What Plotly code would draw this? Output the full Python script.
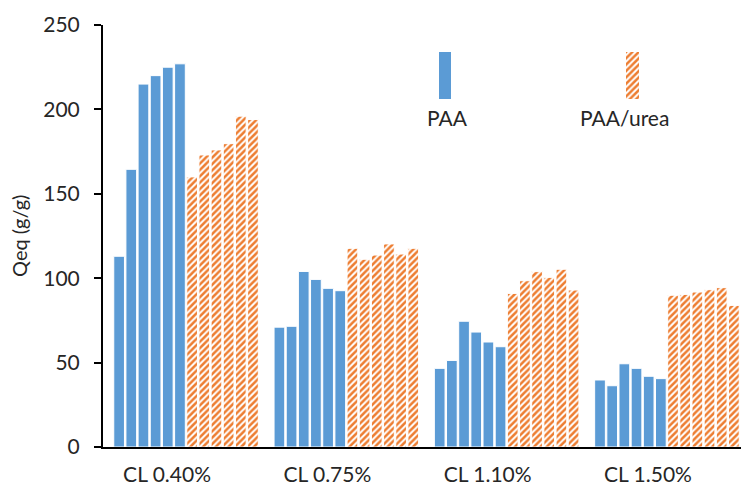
import plotly.graph_objects as go

categories = ["CL 0.40%", "CL 0.75%", "CL 1.10%", "CL 1.50%"]
series_names = ["PAA", "PAA/urea"]

# six samples per crosslinker level (Qeq, g/g)
paa_040 = [113, 164.5, 215, 220, 225, 227]
paa_075 = [71, 71.5, 104, 99.3, 94, 92.6]
paa_110 = [46.6, 51.3, 74.5, 68.1, 62.2, 59.4]
paa_150 = [39.7, 36.3, 49.3, 46.6, 41.9, 40.5]

urea_040 = [160, 173, 176, 179.7, 196, 194]
urea_075 = [117.7, 111.2, 113.7, 120.3, 114.3, 117.7]
urea_110 = [91.0, 98.5, 103.9, 100.5, 105.3, 93.0]
urea_150 = [89.9, 90.4, 91.8, 93.2, 94.4, 83.9]

y_ticks = [0, 50, 100, 150, 200, 250]

BLUE = "#5B9BD5"
ORANGE = "#ED7D31"
TEXT = "#262626"
FONT = "Lato"

paa = [paa_040, paa_075, paa_110, paa_150]
urea = [urea_040, urea_075, urea_110, urea_150]

fig = go.Figure()

hatch = dict(shape="/", size=4.5, solidity=0.55, fgcolor=ORANGE, bgcolor="white", fillmode="replace")

for i in range(6):
    fig.add_trace(go.Bar(
        x=categories, y=[grp[i] for grp in paa], name=series_names[0],
        marker=dict(color=BLUE, line=dict(color="white", width=1)),
        showlegend=False,
    ))
for i in range(6):
    fig.add_trace(go.Bar(
        x=categories, y=[grp[i] for grp in urea], name=series_names[1],
        marker=dict(color=ORANGE, line=dict(color="white", width=1), pattern=hatch),
        showlegend=False,
    ))

# legend keys drawn as single bars in small inset axes
fig.add_trace(go.Bar(x=[0], y=[1], width=[1], xaxis="x2", yaxis="y2",
                     marker=dict(color=BLUE, line=dict(width=0)), showlegend=False, hoverinfo="skip"))
fig.add_trace(go.Bar(x=[0], y=[1], width=[1], xaxis="x3", yaxis="y3",
                     marker=dict(color=ORANGE, line=dict(width=0), pattern=hatch), showlegend=False, hoverinfo="skip"))

L, R, T, B = 103, 0, 25, 39
W, H = 741, 486
pw, ph = W - L - R, H - T - B

def px_x(p):
    return (p - L) / pw

def px_y(p):
    return (H - B - p) / ph

key_axis = dict(visible=False, fixedrange=True, automargin=False)

fig.update_layout(
    template="none",
    width=W, height=H,
    margin=dict(l=L, r=R, t=T, b=B, pad=0, autoexpand=False),
    paper_bgcolor="white", plot_bgcolor="white",
    barmode="group", bargap=0.089, bargroupgap=0.12,
    font=dict(family=FONT, size=21, color=TEXT),
    showlegend=False,
    xaxis=dict(
        type="category", range=[-0.518, 3.462], automargin=False,
        showline=True, linecolor="black", linewidth=1.5, layer="below traces",
        ticks="", showgrid=False, zeroline=False,
        tickfont=dict(family=FONT, size=21, color=TEXT),
        ticklabelshift=-19, ticklabelstandoff=8,
    ),
    yaxis=dict(
        range=[0, 250], tickvals=y_ticks, automargin=False,
        showline=True, linecolor="black", linewidth=2, layer="below traces",
        ticks="outside", ticklen=7, tickwidth=1.5, tickcolor="black",
        showgrid=False, zeroline=False,
        tickfont=dict(family=FONT, size=21, color=TEXT),
        ticklabelstandoff=10,
    ),
    xaxis2=dict(domain=[px_x(439), px_x(451)], range=[-0.5, 0.5], anchor="y2", **key_axis),
    yaxis2=dict(domain=[px_y(99), px_y(52)], range=[0, 1], anchor="x2", **key_axis),
    xaxis3=dict(domain=[px_x(626), px_x(639)], range=[-0.5, 0.5], anchor="y3", **key_axis),
    yaxis3=dict(domain=[px_y(99), px_y(52)], range=[0, 1], anchor="x3", **key_axis),
    annotations=[
        dict(text="Qeq (g/g)", x=px_x(19), y=0.5, xref="paper", yref="paper",
             textangle=-90, showarrow=False, xanchor="center", yanchor="middle",
             font=dict(family=FONT, size=20, color=TEXT)),
        dict(text=series_names[0], x=px_x(447.5), y=px_y(117), xref="paper", yref="paper",
             showarrow=False, xanchor="center", yanchor="middle",
             font=dict(family=FONT, size=21, color=TEXT)),
        dict(text=series_names[1], x=px_x(624.5), y=px_y(117), xref="paper", yref="paper",
             showarrow=False, xanchor="center", yanchor="middle",
             font=dict(family=FONT, size=21, color=TEXT)),
    ],
)

fig.write_html(
    "out.html",
    config={"displayModeBar": False},
    post_script="document.body.style.margin='0';document.body.style.overflow='hidden';",
)
